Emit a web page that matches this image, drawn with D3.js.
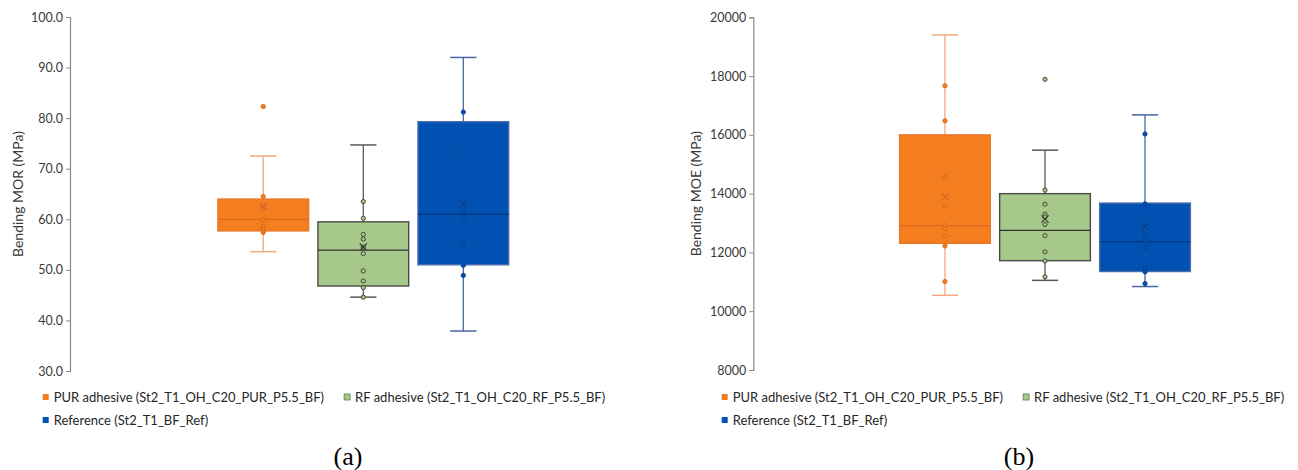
<!DOCTYPE html>
<html>
<head>
<meta charset="utf-8">
<script src="https://cdn.jsdelivr.net/npm/d3@7/dist/d3.min.js"></script>
<style>
  html, body { margin: 0; padding: 0; background: #fff; }
  svg { display: block; }
  text { font-family: Lato, "Open Sans", sans-serif; }
</style>
</head>
<body>
<svg id="chart" width="1298" height="470"></svg>
<script>
// ---------- DATA ----------
const seriesNames = [
  "PUR adhesive (St2_T1_OH_C20_PUR_P5.5_BF)",
  "RF adhesive (St2_T1_OH_C20_RF_P5.5_BF)",
  "Reference (St2_T1_BF_Ref)"
];
const seriesKeys = ["PUR", "RF", "Ref"];

// (a) Bending MOR (MPa)
const morTicks = [30, 40, 50, 60, 70, 80, 90, 100];
const morQ1     = [57.7, 46.8, 51.0];
const morMedian = [60.0, 53.9, 61.0];
const morQ3     = [64.0, 59.5, 79.3];
const morLow    = [53.6, 44.6, 37.9];
const morHigh   = [72.5, 74.7, 92.0];
const morMean   = [62.5, 54.5, 63.1];
const morPointsPUR = [82.3, 64.5, 62.8, 62.2, 59.9, 58.6, 58.0, 57.4];
const morPointsRF  = [63.5, 60.2, 57.0, 56.1, 54.5, 53.2, 49.8, 47.8, 46.5, 44.6];
const morPointsRef = [81.2, 73.4, 61.6, 60.4, 55.4, 50.9, 48.9];

// (b) Bending MOE (MPa)
const moeTicks = [8000, 10000, 12000, 14000, 16000, 18000, 20000];
const moeQ1     = [12310, 11720, 11350];
const moeMedian = [12910, 12750, 12370];
const moeQ3     = [16000, 14000, 13680];
const moeLow    = [10540, 11050, 10840];
const moeHigh   = [19400, 15480, 16680];
const moeMean   = [13890, 13140, 12880];
const moePointsPUR = [17670, 16480, 14570, 13590, 12910, 12810, 12570, 12220, 11010];
const moePointsRF  = [17890, 14120, 13640, 13300, 13210, 12950, 12570, 12020, 11710, 11170];
const moePointsRef = [16030, 13650, 12550, 12370, 12160, 11460, 11340, 10940];

// ---------- STYLE ----------
const fillColor    = ["#F47D20", "#A6C98B", "#0051B2"];
const boxStroke    = ["#E8782A", "#4A4A4A", "#4B6DAE"];
const medianColor  = ["#D9691C", "#333333", "#003A86"];
const whiskerColor = ["#F2A97C", "#5A5A5A", "#4865A6"];
const pointStroke  = ["#D8691E", "#3D4A35", "#0A3F8A"];
const meanColor    = ["#D06A2A", "#333333", "#123C7E"];

const svg = d3.select("#chart");

// font size that makes a sample string a given width
function fitSize(sample, targetWidth, family) {
  const t = svg.append("text").style("font-family", family).style("font-size", "20px").text(sample);
  const w = t.node().getComputedTextLength();
  t.remove();
  return 20 * targetWidth / w;
}
const FONT = "Lato, 'Open Sans', sans-serif";
const tickFont   = fitSize("100.0", 32, FONT);
const labelFont  = fitSize("Bending MOR (MPa)", 126, FONT);
const legendFont = fitSize(seriesNames[0] + seriesNames[1], 521, FONT);

function drawPanel(opt) {
  const g = svg.append("g");
  const y = d3.scaleLinear().domain(opt.domain).range([opt.yBottom, opt.yTop]);
  const x = d3.scaleBand().domain(seriesKeys)
      .range([opt.clusterCenter - 150, opt.clusterCenter + 150])
      .paddingInner(0.093).paddingOuter(0.046);

  // axis
  const axis = d3.axisLeft(y).tickValues(opt.ticks).tickSize(4).tickPadding(3)
      .tickFormat(opt.format);
  const ag = g.append("g").attr("transform", `translate(${opt.axisX},0)`).call(axis);
  ag.select(".domain").attr("stroke", "#8a8a8a").attr("stroke-width", 1.2);
  ag.selectAll(".tick line").attr("stroke", "#8a8a8a");
  ag.selectAll(".tick text").attr("fill", "#3a3a3a")
      .style("font-size", tickFont + "px").style("font-family", FONT);

  // y label
  g.append("text")
    .attr("transform", `translate(${opt.labelX},${(opt.yTop + opt.yBottom) / 2}) rotate(-90)`)
    .attr("text-anchor", "middle").attr("dominant-baseline", "central")
    .attr("fill", "#3a3a3a").style("font-size", labelFont + "px")
    .text(opt.yLabel);

  seriesKeys.forEach((k, i) => {
    const cx = x(k) + x.bandwidth() / 2;
    const bw = x.bandwidth();
    const capW = bw * 0.29;
    const sg = g.append("g");
    // whiskers
    sg.append("line").attr("x1", cx).attr("x2", cx)
      .attr("y1", y(opt.high[i])).attr("y2", y(opt.q3[i]))
      .attr("stroke", whiskerColor[i]).attr("stroke-width", 1.3);
    sg.append("line").attr("x1", cx).attr("x2", cx)
      .attr("y1", y(opt.q1[i])).attr("y2", y(opt.low[i]))
      .attr("stroke", whiskerColor[i]).attr("stroke-width", 1.3);
    [opt.high[i], opt.low[i]].forEach(v => {
      sg.append("line").attr("x1", cx - capW / 2).attr("x2", cx + capW / 2)
        .attr("y1", y(v)).attr("y2", y(v))
        .attr("stroke", whiskerColor[i]).attr("stroke-width", 1.5);
    });
    // box
    sg.append("rect").attr("x", x(k)).attr("width", bw)
      .attr("y", y(opt.q3[i])).attr("height", y(opt.q1[i]) - y(opt.q3[i]))
      .attr("fill", fillColor[i]).attr("stroke", boxStroke[i]).attr("stroke-width", 1.4);
    // median
    sg.append("line").attr("x1", x(k)).attr("x2", x(k) + bw)
      .attr("y1", y(opt.median[i])).attr("y2", y(opt.median[i]))
      .attr("stroke", medianColor[i]).attr("stroke-width", 1.3);
    // points
    sg.selectAll("circle.pt").data(opt.points[i]).enter().append("circle")
      .attr("class", "pt").attr("cx", cx).attr("cy", d => y(d)).attr("r", 2.1)
      .attr("fill", fillColor[i]).attr("stroke", pointStroke[i]).attr("stroke-width", 1);
    // mean X
    const my = y(opt.mean[i]), s = 3.6;
    sg.append("path")
      .attr("d", `M${cx - s},${my - s}L${cx + s},${my + s}M${cx - s},${my + s}L${cx + s},${my - s}`)
      .attr("stroke", meanColor[i]).attr("stroke-width", 1.1).attr("fill", "none");
  });

  // legend
  const lg = g.append("g");
  const sq = 6;
  function legendItem(i, sx, cy) {
    lg.append("rect").attr("x", sx).attr("y", cy - sq / 2).attr("width", sq).attr("height", sq)
      .attr("fill", fillColor[i]).attr("stroke", i === 1 ? "#5a7a48" : "none").attr("stroke-width", 0.8);
    const t = lg.append("text").attr("x", sx + sq + 5).attr("y", cy)
      .attr("dominant-baseline", "central").attr("fill", "#262626")
      .style("font-size", legendFont + "px").text(seriesNames[i]);
    return sx + sq + 5 + t.node().getComputedTextLength();
  }
  const end1 = legendItem(0, opt.legendX, opt.legendRow1);
  legendItem(1, end1 + 20, opt.legendRow1);
  legendItem(2, opt.legendX, opt.legendRow2);

  // panel caption
  g.append("text").attr("x", opt.captionX).attr("y", 465)
    .attr("text-anchor", "middle").attr("fill", "#000")
    .style("font-family", "'Liberation Serif', 'DejaVu Serif', serif").style("font-size", "26px")
    .text(opt.caption);
}

drawPanel({
  domain: [30, 100], ticks: morTicks, format: d3.format(".1f"),
  yTop: 17, yBottom: 371, axisX: 70, labelX: 17, clusterCenter: 363.3,
  yLabel: "Bending MOR (MPa)",
  q1: morQ1, median: morMedian, q3: morQ3, low: morLow, high: morHigh, mean: morMean,
  points: [morPointsPUR, morPointsRF, morPointsRef],
  legendX: 42.7, legendRow1: 397, legendRow2: 420,
  captionX: 348, caption: "(a)"
});

drawPanel({
  domain: [8000, 20000], ticks: moeTicks, format: d3.format("d"),
  yTop: 17.3, yBottom: 370, axisX: 753.3, labelX: 695, clusterCenter: 1045,
  yLabel: "Bending MOE (MPa)",
  q1: moeQ1, median: moeMedian, q3: moeQ3, low: moeLow, high: moeHigh, mean: moeMean,
  points: [moePointsPUR, moePointsRF, moePointsRef],
  legendX: 721.7, legendRow1: 397, legendRow2: 420,
  captionX: 1019, caption: "(b)"
});
</script>
</body>
</html>
